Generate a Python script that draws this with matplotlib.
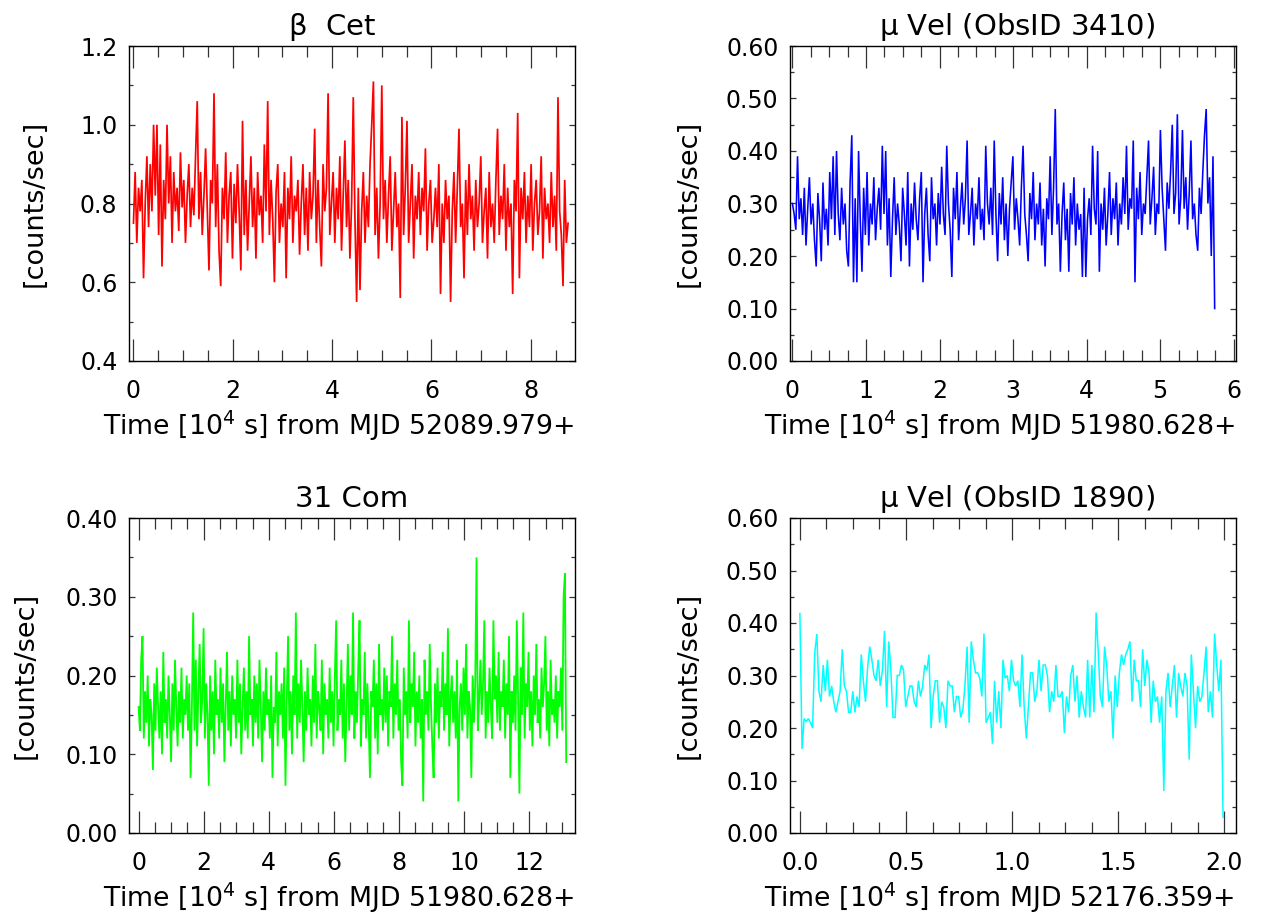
import numpy as np
import matplotlib
matplotlib.use("Agg")
import matplotlib.pyplot as plt
from matplotlib.ticker import MultipleLocator, FormatStrFormatter

plt.rcParams['font.family'] = ['DejaVu Sans']
plt.rcParams['mathtext.fontset'] = 'dejavusans'
plt.rcParams['mathtext.default'] = 'regular'

# ---------------- data ----------------
# beta Cet, counts/sec, time in 1e4 s
bcet_tend = 8.75
bcet_rate = [
    .75, .88, .70, .84, .78, .86, .61, .80, .92, .74,
    .90, .78, 1.0, .82, 1.0, .72, .95, .64, .86, .76,
    1.0, .80, .92, .70, .88, .78, .84, .73, .93, .79,
    .86, .70, .82, .90, .74, .84, .77, .92, 1.06, .76,
    .88, .72, .82, .94, .78, .63, .86, .80, 1.08, .74,
    .90, .68, .59, .84, .76, .93, .70, .82, .88, .66,
    .85, .75, .90, .78, .63, 1.01, .72, .86, .68, .80,
    .92, .74, .84, .66, .88, .77, .82, .70, .95, .78,
    1.06, .72, .86, .76, .60, .83, .90, .70, .80, .74,
    .88, .61, .84, .76, .92, .70, .82, .78, .86, .67,
    .80, .90, .72, .84, .68, .88, .76, .82, .99, .70,
    .86, .74, .64, .90, .78, .84, 1.08, .72, .80, .88,
    .70, .84, .76, .92, .68, .82, .96, .74, .86, .66,
    .80, 1.07, .76, .55, .84, .58, .78, .88, .70, .82,
    .74, .90, 1.0, 1.11, .72, .84, .66, .80, 1.10, .76,
    .86, .70, .82, .92, .68, .78, .88, .74, .80, .56,
    1.02, .72, .84, 1.01, .70, .80, .90, .66, .82, .76,
    .88, .72, .84, .78, .94, .68, .80, .86, .70, .76,
    .84, .74, .90, .57, .80, .70, .86, .76, .82, .55,
    .78, .88, .70, .84, .99, .74, .80, .61, .86, .72,
    .90, .76, .82, .68, .86, .74, .80, .92, .70, .78,
    .84, .66, .88, .74, .80, .70, .86, .99, .72, .82,
    .76, .90, .68, .84, .74, .80, .57, .86, .78, 1.03,
    .61, .84, .76, .88, .70, .82, .74, .90, .68, .80,
    .86, .72, .78, .92, .66, .84, .76, .80, .70, .88,
    .74, .82, .68, 1.07, .78, .72, .59, .86, .70, .75,
]

# mu Vel ObsID 3410
mvel1_tend = 5.74
mvel1_rate = [
    .30, .28, .25, .39, .27, .31, .24, .33, .22, .29,
    .35, .26, .30, .23, .18, .32, .27, .19, .34, .25,
    .29, .22, .36, .27, .39, .24, .40, .28, .23, .33,
    .26, .30, .21, .18, .34, .43, .15, .31, .15, .40,
    .27, .17, .33, .24, .36, .22, .30, .26, .35, .23,
    .29, .33, .25, .41, .28, .40, .22, .31, .16, .27,
    .35, .24, .30, .26, .19, .33, .28, .22, .36, .18,
    .30, .25, .34, .27, .23, .31, .36, .15, .28, .33,
    .24, .19, .35, .27, .30, .22, .32, .26, .37, .28,
    .24, .41, .30, .25, .16, .33, .27, .36, .23, .29,
    .34, .26, .31, .42, .24, .28, .33, .22, .30, .27,
    .35, .25, .29, .23, .41, .30, .26, .33, .24, .42,
    .28, .19, .32, .26, .35, .23, .30, .20, .29, .34,
    .39, .25, .31, .27, .22, .33, .41, .28, .24, .19,
    .32, .27, .36, .23, .30, .26, .34, .22, .29, .18,
    .31, .27, .39, .24, .33, .48, .26, .30, .17, .28,
    .34, .23, .29, .17, .32, .26, .35, .22, .30, .25,
    .28, .16, .33, .16, .27, .31, .24, .41, .29, .26,
    .40, .17, .30, .25, .33, .22, .28, .36, .24, .31,
    .27, .34, .22, .30, .26, .35, .28, .41, .25, .31,
    .29, .42, .15, .33, .27, .36, .24, .30, .28, .35,
    .42, .26, .31, .37, .24, .30, .28, .44, .33, .27,
    .21, .34, .29, .36, .45, .28, .32, .47, .26, .31,
    .44, .29, .35, .25, .32, .42, .27, .30, .24, .21,
    .33, .28, .36, .43, .48, .30, .35, .20, .39, .10,
]

# 31 Com
com_tend = 13.13
com_rate = [
    .16, .13, .22, .25, .12, .18, .14, .20, .11, .17,
    .15, .08, .19, .13, .21, .16, .12, .18, .10, .23,
    .14, .17, .12, .20, .15, .09, .19, .13, .22, .16,
    .11, .18, .14, .21, .12, .17, .15, .20, .13, .19,
    .07, .16, .28, .13, .22, .11, .18, .24, .14, .17,
    .26, .12, .19, .15, .06, .20, .13, .18, .10, .22,
    .15, .17, .12, .21, .14, .19, .09, .16, .23, .13,
    .18, .11, .20, .15, .17, .12, .22, .14, .19, .10,
    .16, .21, .13, .18, .12, .25, .15, .17, .11, .20,
    .14, .19, .12, .22, .16, .09, .18, .13, .21, .15,
    .17, .12, .20, .07, .16, .14, .23, .11, .18, .15,
    .19, .12, .21, .06, .17, .25, .13, .18, .10, .20,
    .15, .28, .12, .19, .14, .22, .16, .09, .18, .13,
    .21, .15, .17, .11, .20, .14, .24, .12, .18, .16,
    .13, .22, .10, .19, .15, .17, .12, .21, .14, .18,
    .11, .20, .27, .13, .17, .15, .22, .12, .19, .09,
    .16, .24, .13, .20, .15, .28, .12, .18, .14, .21,
    .27, .11, .17, .15, .23, .12, .19, .14, .07, .18,
    .16, .22, .12, .19, .10, .24, .15, .17, .13, .21,
    .14, .20, .11, .18, .16, .25, .12, .19, .15, .22,
    .13, .17, .09, .06, .21, .15, .18, .12, .27, .14,
    .19, .16, .23, .11, .18, .14, .20, .12, .17, .04,
    .22, .15, .18, .13, .24, .16, .11, .07, .19, .14,
    .21, .12, .18, .16, .23, .13, .19, .15, .26, .11,
    .17, .20, .14, .18, .12, .22, .04, .16, .19, .13,
    .21, .15, .24, .12, .18, .16, .07, .20, .14, .19,
    .35, .13, .17, .22, .15, .19, .27, .12, .18, .14,
    .21, .16, .12, .27, .17, .20, .14, .23, .13, .18,
    .16, .22, .12, .19, .15, .25, .07, .18, .14, .20,
    .13, .27, .17, .05, .21, .15, .28, .12, .19, .16,
    .23, .13, .18, .11, .20, .15, .24, .14, .17, .12,
    .21, .16, .19, .25, .13, .18, .11, .22, .15, .17,
    .14, .20, .12, .18, .16, .21, .13, .30, .33, .09,
]

# mu Vel ObsID 1890
mvel2_tend = 1.994
mvel2_rate = [
    .418, .16, .218, .212, .218, .21, .20, .343, .379, .27,
    .25, .32, .27, .33, .26, .28, .25, .23, .25, .27,
    .35, .28, .27, .23, .23, .27, .23, .26, .24, .34,
    .29, .25, .315, .355, .33, .30, .29, .33, .28, .31,
    .385, .24, .365, .31, .22, .22, .30, .30, .32, .31,
    .24, .26, .28, .28, .25, .24, .29, .26, .28, .32,
    .31, .34, .20, .26, .29, .29, .21, .25, .24, .20,
    .29, .28, .28, .23, .26, .26, .22, .235, .28, .355,
    .21, .365, .33, .305, .305, .295, .26, .38, .21, .22,
    .23, .17, .29, .21, .27, .20, .33, .295, .30, .27,
    .33, .29, .28, .29, .24, .34, .24, .18, .24, .305,
    .305, .25, .27, .33, .27, .32, .32, .30, .23, .27,
    .25, .32, .26, .26, .27, .19, .26, .23, .30, .32,
    .25, .30, .22, .27, .24, .22, .33, .22, .32, .23,
    .42, .345, .26, .24, .355, .32, .25, .27, .18, .30,
    .24, .305, .34, .32, .34, .35, .365, .25, .33, .29,
    .29, .24, .35, .28, .33, .305, .21, .29, .25, .26,
    .21, .26, .08, .27, .305, .24, .28, .32, .22, .305,
    .28, .26, .305, .28, .14, .34, .27, .20, .28, .25,
    .26, .305, .355, .23, .27, .22, .38, .32, .27, .33,
    .03,
]

titles = [r"$\beta$  Cet", r"$\mu$ Vel (ObsID 3410)", "31 Com", r"$\mu$ Vel (ObsID 1890)"]
xlabels = [
    "Time [10$^{4}$ s] from MJD 52089.979+",
    "Time [10$^{4}$ s] from MJD 51980.628+",
    "Time [10$^{4}$ s] from MJD 51980.628+",
    "Time [10$^{4}$ s] from MJD 52176.359+",
]
ylabel = "[counts/sec]"

# ---------------- figure ----------------
W, H = 1275, 917
fig = plt.figure(figsize=(W / 100, H / 100), dpi=100)


def px_axes(x0, y0, x1, y1):
    return fig.add_axes([x0 / W, 1 - y1 / H, (x1 - x0) / W, (y1 - y0) / H])


panels = [
    dict(box=(128.5, 46, 575, 361), rate=bcet_rate, tend=bcet_tend, color="#ff0000", lw=1.25,
         xlim=(-0.1, 8.89), ylim=(0.4, 1.2), xmaj=2, xmin=0.5, ymaj=0.2, ymin=0.1,
         yfmt="%.1f", xfmt="%d", ylx=-0.21, title_x=0.455),
    dict(box=(789.5, 46, 1236, 361), rate=mvel1_rate, tend=mvel1_tend, color="#0000ff", lw=1.15,
         xlim=(-0.04, 6.03), ylim=(0.0, 0.6), xmaj=1, xmin=0.25, ymaj=0.1, ymin=0.05,
         yfmt="%.2f", xfmt="%d", ylx=-0.225, title_x=0.51),
    dict(box=(128.5, 518, 575, 833), rate=com_rate, tend=com_tend, color="#00ff00", lw=1.3,
         xlim=(-0.31, 13.4), ylim=(0.0, 0.4), xmaj=2, xmin=0.5, ymaj=0.1, ymin=0.05,
         yfmt="%.2f", xfmt="%d", ylx=-0.23, title_x=0.5),
    dict(box=(789.5, 518, 1236, 833), rate=mvel2_rate, tend=mvel2_tend, color="#00ffff", lw=1.1,
         xlim=(-0.049, 2.055), ylim=(0.0, 0.6), xmaj=0.5, xmin=0.125, ymaj=0.1, ymin=0.05,
         yfmt="%.2f", xfmt="%.1f", ylx=-0.225, title_x=0.51),
]

for p, title, xl in zip(panels, titles, xlabels):
    ax = px_axes(*p["box"])
    y = np.asarray(p["rate"])
    t = np.linspace(0.0, p["tend"], len(y))
    ax.plot(t, y, color=p["color"], lw=p["lw"], solid_joinstyle="miter")
    ax.set_xlim(*p["xlim"])
    ax.set_ylim(*p["ylim"])
    ax.xaxis.set_major_locator(MultipleLocator(p["xmaj"]))
    ax.xaxis.set_minor_locator(MultipleLocator(p["xmin"]))
    ax.yaxis.set_major_locator(MultipleLocator(p["ymaj"]))
    ax.yaxis.set_minor_locator(MultipleLocator(p["ymin"]))
    ax.xaxis.set_major_formatter(FormatStrFormatter(p["xfmt"]))
    ax.yaxis.set_major_formatter(FormatStrFormatter(p["yfmt"]))
    ax.tick_params(axis="x", which="both", direction="in", top=True, bottom=True,
                   labelsize=17, pad=13, width=0.9, color="#333333")
    ax.tick_params(axis="x", which="major", length=16)
    ax.tick_params(axis="x", which="minor", length=8)
    ax.tick_params(axis="y", which="both", direction="in", left=True, right=True,
                   labelsize=17, pad=8, width=0.9, color="#333333")
    ax.tick_params(axis="y", which="major", length=4)
    ax.tick_params(axis="y", which="minor", length=3)
    for s in ax.spines.values():
        s.set_linewidth(1.0)
        s.set_color("black")
    ax.set_title(title, fontsize=21, pad=8, x=p["title_x"])
    ax.set_xlabel(xl, fontsize=19.3, va="center")
    ax.xaxis.set_label_coords(0.47, -0.205)
    ax.set_ylabel(ylabel, fontsize=19.5, va="center")
    ax.yaxis.set_label_coords(p["ylx"], 0.5)

fig.savefig("out.png", dpi=100)
